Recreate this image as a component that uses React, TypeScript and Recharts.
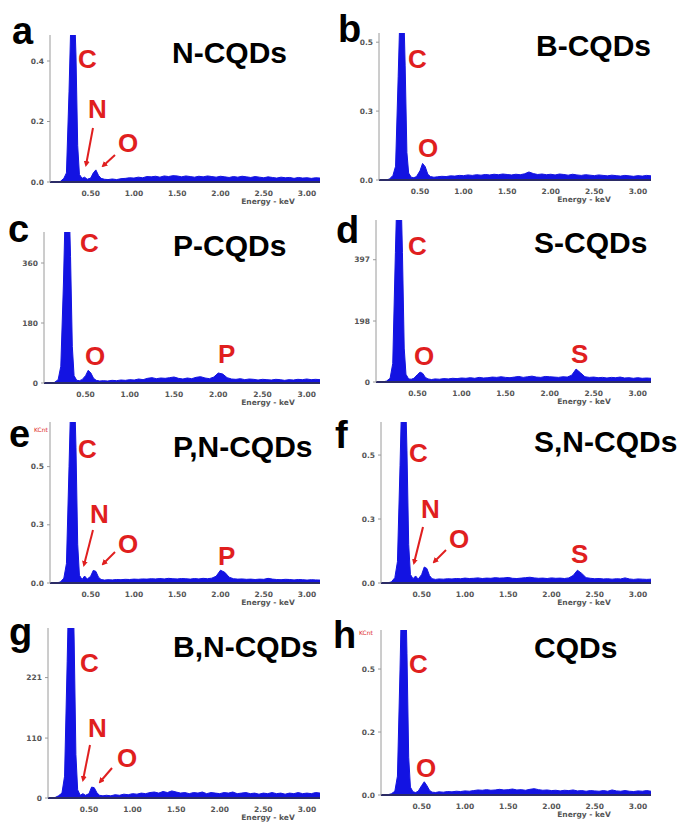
import React from 'react';
import { AreaChart, Area, XAxis, YAxis } from 'recharts';

// shared energy grid (keV), finer around the C / N / O lines
const energy = [
  0.05, 0.10, 0.15, 0.19, 0.22, 0.25, 0.27, 0.29, 0.31, 0.33, 0.35, 0.37,
  0.40, 0.43, 0.46, 0.50, 0.53, 0.56, 0.59, 0.62, 0.66, 0.70,
  0.75, 0.80, 0.85, 0.90, 0.95, 1.00, 1.05, 1.10, 1.15, 1.20, 1.25, 1.30, 1.35, 1.40, 1.45, 1.50,
  1.55, 1.60, 1.65, 1.70, 1.75, 1.80, 1.85, 1.90, 1.95, 2.00, 2.05, 2.10, 2.15, 2.20, 2.25, 2.30,
  2.35, 2.40, 2.45, 2.50, 2.55, 2.60, 2.65, 2.70, 2.75, 2.80, 2.85, 2.90, 2.95, 3.00, 3.05, 3.10, 3.15,
];

const xTicks = [0.5, 1.0, 1.5, 2.0, 2.5, 3.0];

const nCqds = [
  0, 0, 0.002, 0.012, 0.03, 0.30, 0.52, 0.62, 0.60, 0.42, 0.12, 0.025,
  0.012, 0.016, 0.009, 0.013, 0.03, 0.04, 0.022, 0.012, 0.009, 0.008,
  0.010, 0.008, 0.011, 0.012, 0.014, 0.013, 0.016, 0.014, 0.018, 0.017, 0.019, 0.016, 0.020, 0.018, 0.021, 0.020,
  0.017, 0.020, 0.018, 0.016, 0.019, 0.017, 0.020, 0.018, 0.016, 0.019, 0.017, 0.015, 0.018, 0.016, 0.019, 0.017,
  0.015, 0.018, 0.016, 0.014, 0.017, 0.015, 0.013, 0.016, 0.014, 0.015, 0.012, 0.015, 0.013, 0.014, 0.012, 0.014, 0.013,
];
const bCqds = [
  0, 0, 0.004, 0.02, 0.06, 0.45, 0.72, 0.85, 0.80, 0.50, 0.12, 0.03,
  0.012, 0.010, 0.015, 0.04, 0.072, 0.058, 0.025, 0.015, 0.012, 0.014,
  0.016, 0.015, 0.018, 0.017, 0.020, 0.019, 0.022, 0.020, 0.023, 0.021, 0.024, 0.022, 0.025, 0.023, 0.026, 0.024,
  0.022, 0.025, 0.023, 0.027, 0.035, 0.028, 0.024, 0.026, 0.023, 0.025, 0.022, 0.026, 0.024, 0.021, 0.025, 0.022,
  0.020, 0.023, 0.021, 0.019, 0.022, 0.020, 0.018, 0.021, 0.019, 0.017, 0.020, 0.018, 0.016, 0.019, 0.017, 0.020, 0.018,
];
const pCqds = [
  0, 0, 2, 10, 50, 300, 520, 600, 580, 380, 110, 22,
  8, 7, 10, 22, 38, 30, 14, 8, 6, 7,
  6, 8, 7, 9, 8, 10, 9, 12, 10, 14, 16, 13, 15, 14, 16, 18,
  14, 12, 15, 13, 17, 19, 15, 13, 18, 30, 27, 16, 12, 11, 13, 10,
  12, 11, 9, 11, 10, 9, 11, 10, 8, 10, 9, 11, 10, 12, 10, 11, 10,
];
const sCqds = [
  0, 0, 3, 12, 60, 420, 640, 700, 660, 420, 110, 25,
  10, 9, 12, 24, 32, 28, 15, 10, 8, 10,
  9, 11, 10, 12, 11, 13, 12, 14, 12, 15, 13, 14, 16, 15, 17, 15,
  14, 16, 18, 15, 17, 19, 16, 15, 18, 17, 16, 15, 17, 16, 22, 42,
  30, 17, 15, 16, 14, 15, 13, 15, 14, 16, 13, 14, 12, 14, 12, 13, 12,
];
const pnCqds = [
  0, 0, 0.005, 0.025, 0.1, 0.6, 0.95, 1.1, 1.05, 0.7, 0.2, 0.04,
  0.018, 0.036, 0.02, 0.035, 0.065, 0.06, 0.03, 0.018, 0.015, 0.017,
  0.016, 0.018, 0.017, 0.019, 0.018, 0.020, 0.019, 0.021, 0.020, 0.022, 0.021, 0.023, 0.021, 0.024, 0.022, 0.021,
  0.023, 0.022, 0.020, 0.023, 0.021, 0.024, 0.022, 0.025, 0.035, 0.066, 0.055, 0.030, 0.022, 0.020, 0.021, 0.019,
  0.020, 0.018, 0.020, 0.019, 0.024, 0.020, 0.018, 0.017, 0.019, 0.018, 0.016, 0.018, 0.017, 0.015, 0.017, 0.016, 0.015,
];
const snCqds = [
  0, 0, 0.005, 0.025, 0.1, 0.55, 0.88, 1.0, 0.95, 0.62, 0.18, 0.04,
  0.02, 0.033, 0.018, 0.04, 0.075, 0.068, 0.035, 0.02, 0.017, 0.019,
  0.018, 0.020, 0.019, 0.021, 0.020, 0.023, 0.021, 0.022, 0.024, 0.021, 0.023, 0.022, 0.025, 0.023, 0.024, 0.026,
  0.022, 0.021, 0.023, 0.025, 0.027, 0.024, 0.022, 0.023, 0.021, 0.024, 0.022, 0.023, 0.021, 0.024, 0.035, 0.060,
  0.045, 0.025, 0.022, 0.020, 0.021, 0.019, 0.020, 0.018, 0.020, 0.019, 0.024, 0.019, 0.017, 0.019, 0.018, 0.017, 0.018,
];
const bnCqds = [
  0, 0, 4, 9, 40, 250, 400, 460, 440, 290, 80, 15,
  5, 8, 5, 8, 20, 19, 10, 5, 4, 5,
  4, 6, 5, 7, 6, 8, 7, 9, 8, 10, 11, 9, 12, 10, 13, 11,
  9, 10, 8, 10, 9, 11, 8, 10, 9, 8, 10, 9, 11, 8, 9, 10,
  8, 9, 7, 9, 8, 10, 8, 9, 7, 9, 8, 10, 8, 9, 8, 10, 9,
];
const cqds = [
  0, 0, 0.004, 0.012, 0.06, 0.4, 0.66, 0.75, 0.72, 0.45, 0.12, 0.025,
  0.010, 0.008, 0.012, 0.030, 0.042, 0.030, 0.015, 0.009, 0.008, 0.010,
  0.009, 0.011, 0.010, 0.012, 0.011, 0.013, 0.012, 0.014, 0.016, 0.015, 0.017, 0.015, 0.016, 0.018, 0.016, 0.017,
  0.019, 0.016, 0.017, 0.015, 0.018, 0.020, 0.017, 0.015, 0.016, 0.014, 0.015, 0.013, 0.015, 0.014, 0.016, 0.013,
  0.014, 0.012, 0.014, 0.013, 0.012, 0.014, 0.012, 0.016, 0.013, 0.012, 0.014, 0.012, 0.011, 0.013, 0.012, 0.014, 0.012,
];

// y tick positions and the labels the instrument printed at them
const aTicks = [0, 0.2, 0.4];
const aTickLabels = ['0.0', '0.2', '0.4'];
const bTicks = [0, 0.3, 0.6];
const bTickLabels = ['0.0', '0.3', '0.5'];
const cTicks = [0, 180, 360];
const cTickLabels = ['0', '180', '360'];
const dTicks = [0, 198, 397];
const dTickLabels = ['0', '198', '397'];
const eTicks = [0, 0.3, 0.6];
const eTickLabels = ['0.0', '0.3', '0.5'];
const fTicks = [0, 0.3, 0.6];
const fTickLabels = ['0.0', '0.3', '0.5'];
const gTicks = [0, 110, 221];
const gTickLabels = ['0', '110', '221'];
const hTicks = [0, 0.2, 0.4];
const hTickLabels = ['0.0', '0.2', '0.5'];

const panelLetters = ['a', 'b', 'c', 'd', 'e', 'f', 'g', 'h'];
const sampleNames = ['N-CQDs', 'B-CQDs', 'P-CQDs', 'S-CQDs', 'P,N-CQDs', 'S,N-CQDs', 'B,N-CQDs', 'CQDs'];

const panels = [
  { data: nCqds, ticks: aTicks, labels: aTickLabels, yMax: 0.486, left: 0, axisX: 50, rowTop: 0, top: 35, base: 182 },
  { data: bCqds, ticks: bTicks, labels: bTickLabels, yMax: 0.64, left: 341, axisX: 379, rowTop: 0, top: 33, base: 180 },
  { data: pCqds, ticks: cTicks, labels: cTickLabels, yMax: 453, left: 0, axisX: 44, rowTop: 205, top: 232, base: 383 },
  { data: sCqds, ticks: dTicks, labels: dTickLabels, yMax: 526, left: 341, axisX: 376, rowTop: 205, top: 220, base: 382 },
  { data: pnCqds, ticks: eTicks, labels: eTickLabels, yMax: 0.83, left: 0, axisX: 50, rowTop: 410, top: 422, base: 583 },
  { data: snCqds, ticks: fTicks, labels: fTickLabels, yMax: 0.755, left: 341, axisX: 381, rowTop: 410, top: 422, base: 583 },
  { data: bnCqds, ticks: gTicks, labels: gTickLabels, yMax: 312, left: 0, axisX: 48, rowTop: 615, top: 628, base: 798 },
  { data: cqds, ticks: hTicks, labels: hTickLabels, yMax: 0.524, left: 341, axisX: 381, rowTop: 615, top: 630, base: 795 },
];

const letterPos = [[12, 44], [338, 42], [8, 242], [336, 243], [9, 447], [335, 448], [9, 645], [333, 648]];
const titlePos = [[172, 63], [536, 56], [173, 256], [534, 253], [173, 457], [534, 452], [173, 657], [534, 658]];

const elementLabels = [
  { t: 'C', x: 78, y: 68 }, { t: 'N', x: 88, y: 118 }, { t: 'O', x: 118, y: 152 },
  { t: 'C', x: 408, y: 68 }, { t: 'O', x: 418, y: 157 },
  { t: 'C', x: 80, y: 252 }, { t: 'O', x: 85, y: 365 }, { t: 'P', x: 218, y: 363 },
  { t: 'C', x: 408, y: 255 }, { t: 'O', x: 414, y: 365 }, { t: 'S', x: 571, y: 363 },
  { t: 'C', x: 78, y: 458 }, { t: 'N', x: 90, y: 523 }, { t: 'O', x: 118, y: 553 }, { t: 'P', x: 218, y: 565 },
  { t: 'C', x: 409, y: 462 }, { t: 'N', x: 421, y: 518 }, { t: 'O', x: 449, y: 548 }, { t: 'S', x: 571, y: 563 },
  { t: 'C', x: 80, y: 672 }, { t: 'N', x: 88, y: 737 }, { t: 'O', x: 117, y: 767 },
  { t: 'C', x: 409, y: 673 }, { t: 'O', x: 416, y: 777 },
];

const arrows = [
  [93, 128, 86, 165], [115, 155, 103, 166],
  [93, 530, 84, 565], [115, 552, 103, 564],
  [423, 527, 414, 563], [446, 550, 434, 562],
  [90, 745, 83, 780], [112, 768, 100, 782],
];

const BLUE = '#1313e2';
const RED = '#e01f1f';
const tickStyle = { fontSize: 7.5, fontWeight: 700, fill: '#555', fontFamily: 'DejaVu Sans' };

function Spectrum({ p }: { p: any }) {
  const rows = energy.map((e, i) => ({ energy: e, counts: p.data[i] }));
  const plotRight = p.left === 0 ? 320 : 651;
  const height = p.base - p.rowTop + 24;
  return (
    <div style={{ position: 'absolute', left: p.left, top: p.rowTop }}>
      <AreaChart
        width={341}
        height={height}
        data={rows}
        margin={{ top: p.top - p.rowTop, right: p.left + 341 - plotRight, left: 0, bottom: 0 }}
      >
        <XAxis
          type="number"
          dataKey="energy"
          domain={[0.03, 3.15]}
          allowDataOverflow
          ticks={xTicks}
          tickFormatter={(v: number) => v.toFixed(2)}
          height={24}
          tickLine={false}
          tickSize={3}
          tickMargin={6}
          axisLine={{ stroke: '#2b2b66', strokeWidth: 2 }}
          tick={tickStyle}
        />
        <YAxis
          type="number"
          domain={[0, p.yMax]}
          allowDataOverflow
          ticks={p.ticks}
          tickFormatter={(v: number) => p.labels[p.ticks.indexOf(v)]}
          width={p.axisX - p.left}
          tickSize={3}
          tickMargin={3}
          axisLine={{ stroke: '#9a9a9a' }}
          tickLine={{ stroke: '#9a9a9a' }}
          tick={tickStyle}
        />
        <Area
          type="linear"
          dataKey="counts"
          stroke={BLUE}
          strokeWidth={1}
          fill={BLUE}
          fillOpacity={1}
          dot={false}
          activeDot={false}
          isAnimationActive={false}
        />
      </AreaChart>
    </div>
  );
}

export default function App() {
  return (
    <div style={{ position: 'absolute', left: 0, top: 0, width: 682, height: 826, background: '#fff', overflow: 'hidden' }}>
      {panels.map((p, i) => (
        <Spectrum key={i} p={p} />
      ))}
      <svg width={682} height={826} style={{ position: 'absolute', left: 0, top: 0, pointerEvents: 'none' }}>
        <defs>
          <marker id="head" markerWidth="6" markerHeight="6" refX="4" refY="3" orient="auto" markerUnits="userSpaceOnUse">
            <path d="M0,0 L6,3 L0,6 z" fill={RED} />
          </marker>
        </defs>
        {panels.map((p, i) => (
          <text
            key={'en' + i}
            x={p.left === 0 ? 268 : 584}
            y={p.base + 22}
            textAnchor="middle"
            style={{ fontSize: 7.5, fontWeight: 700, fill: '#555', fontFamily: 'DejaVu Sans' }}
          >
            Energy - keV
          </text>
        ))}
        <text x={34} y={432} style={{ fontSize: 6, fill: RED, fontFamily: 'DejaVu Sans' }}>KCnt</text>
        <text x={359} y={635} style={{ fontSize: 6, fill: RED, fontFamily: 'DejaVu Sans' }}>KCnt</text>
        {panelLetters.map((l, i) => (
          <text key={l} x={letterPos[i][0]} y={letterPos[i][1]} style={{ fontSize: 38, fontWeight: 700, fill: '#000', fontFamily: 'Liberation Sans, Arial, sans-serif' }}>
            {l}
          </text>
        ))}
        {sampleNames.map((n, i) => (
          <text key={n} x={titlePos[i][0]} y={titlePos[i][1]} style={{ fontSize: 30, fontWeight: 700, fill: '#000', fontFamily: 'Liberation Sans, Arial, sans-serif' }}>
            {n}
          </text>
        ))}
        {elementLabels.map((e, i) => (
          <text key={'el' + i} x={e.x} y={e.y} style={{ fontSize: 26, fontWeight: 700, fill: RED, fontFamily: 'Liberation Sans, Arial, sans-serif' }}>
            {e.t}
          </text>
        ))}
        {arrows.map((a, i) => (
          <line key={'ar' + i} x1={a[0]} y1={a[1]} x2={a[2]} y2={a[3]} stroke={RED} strokeWidth={2} markerEnd="url(#head)" />
        ))}
      </svg>
    </div>
  );
}
